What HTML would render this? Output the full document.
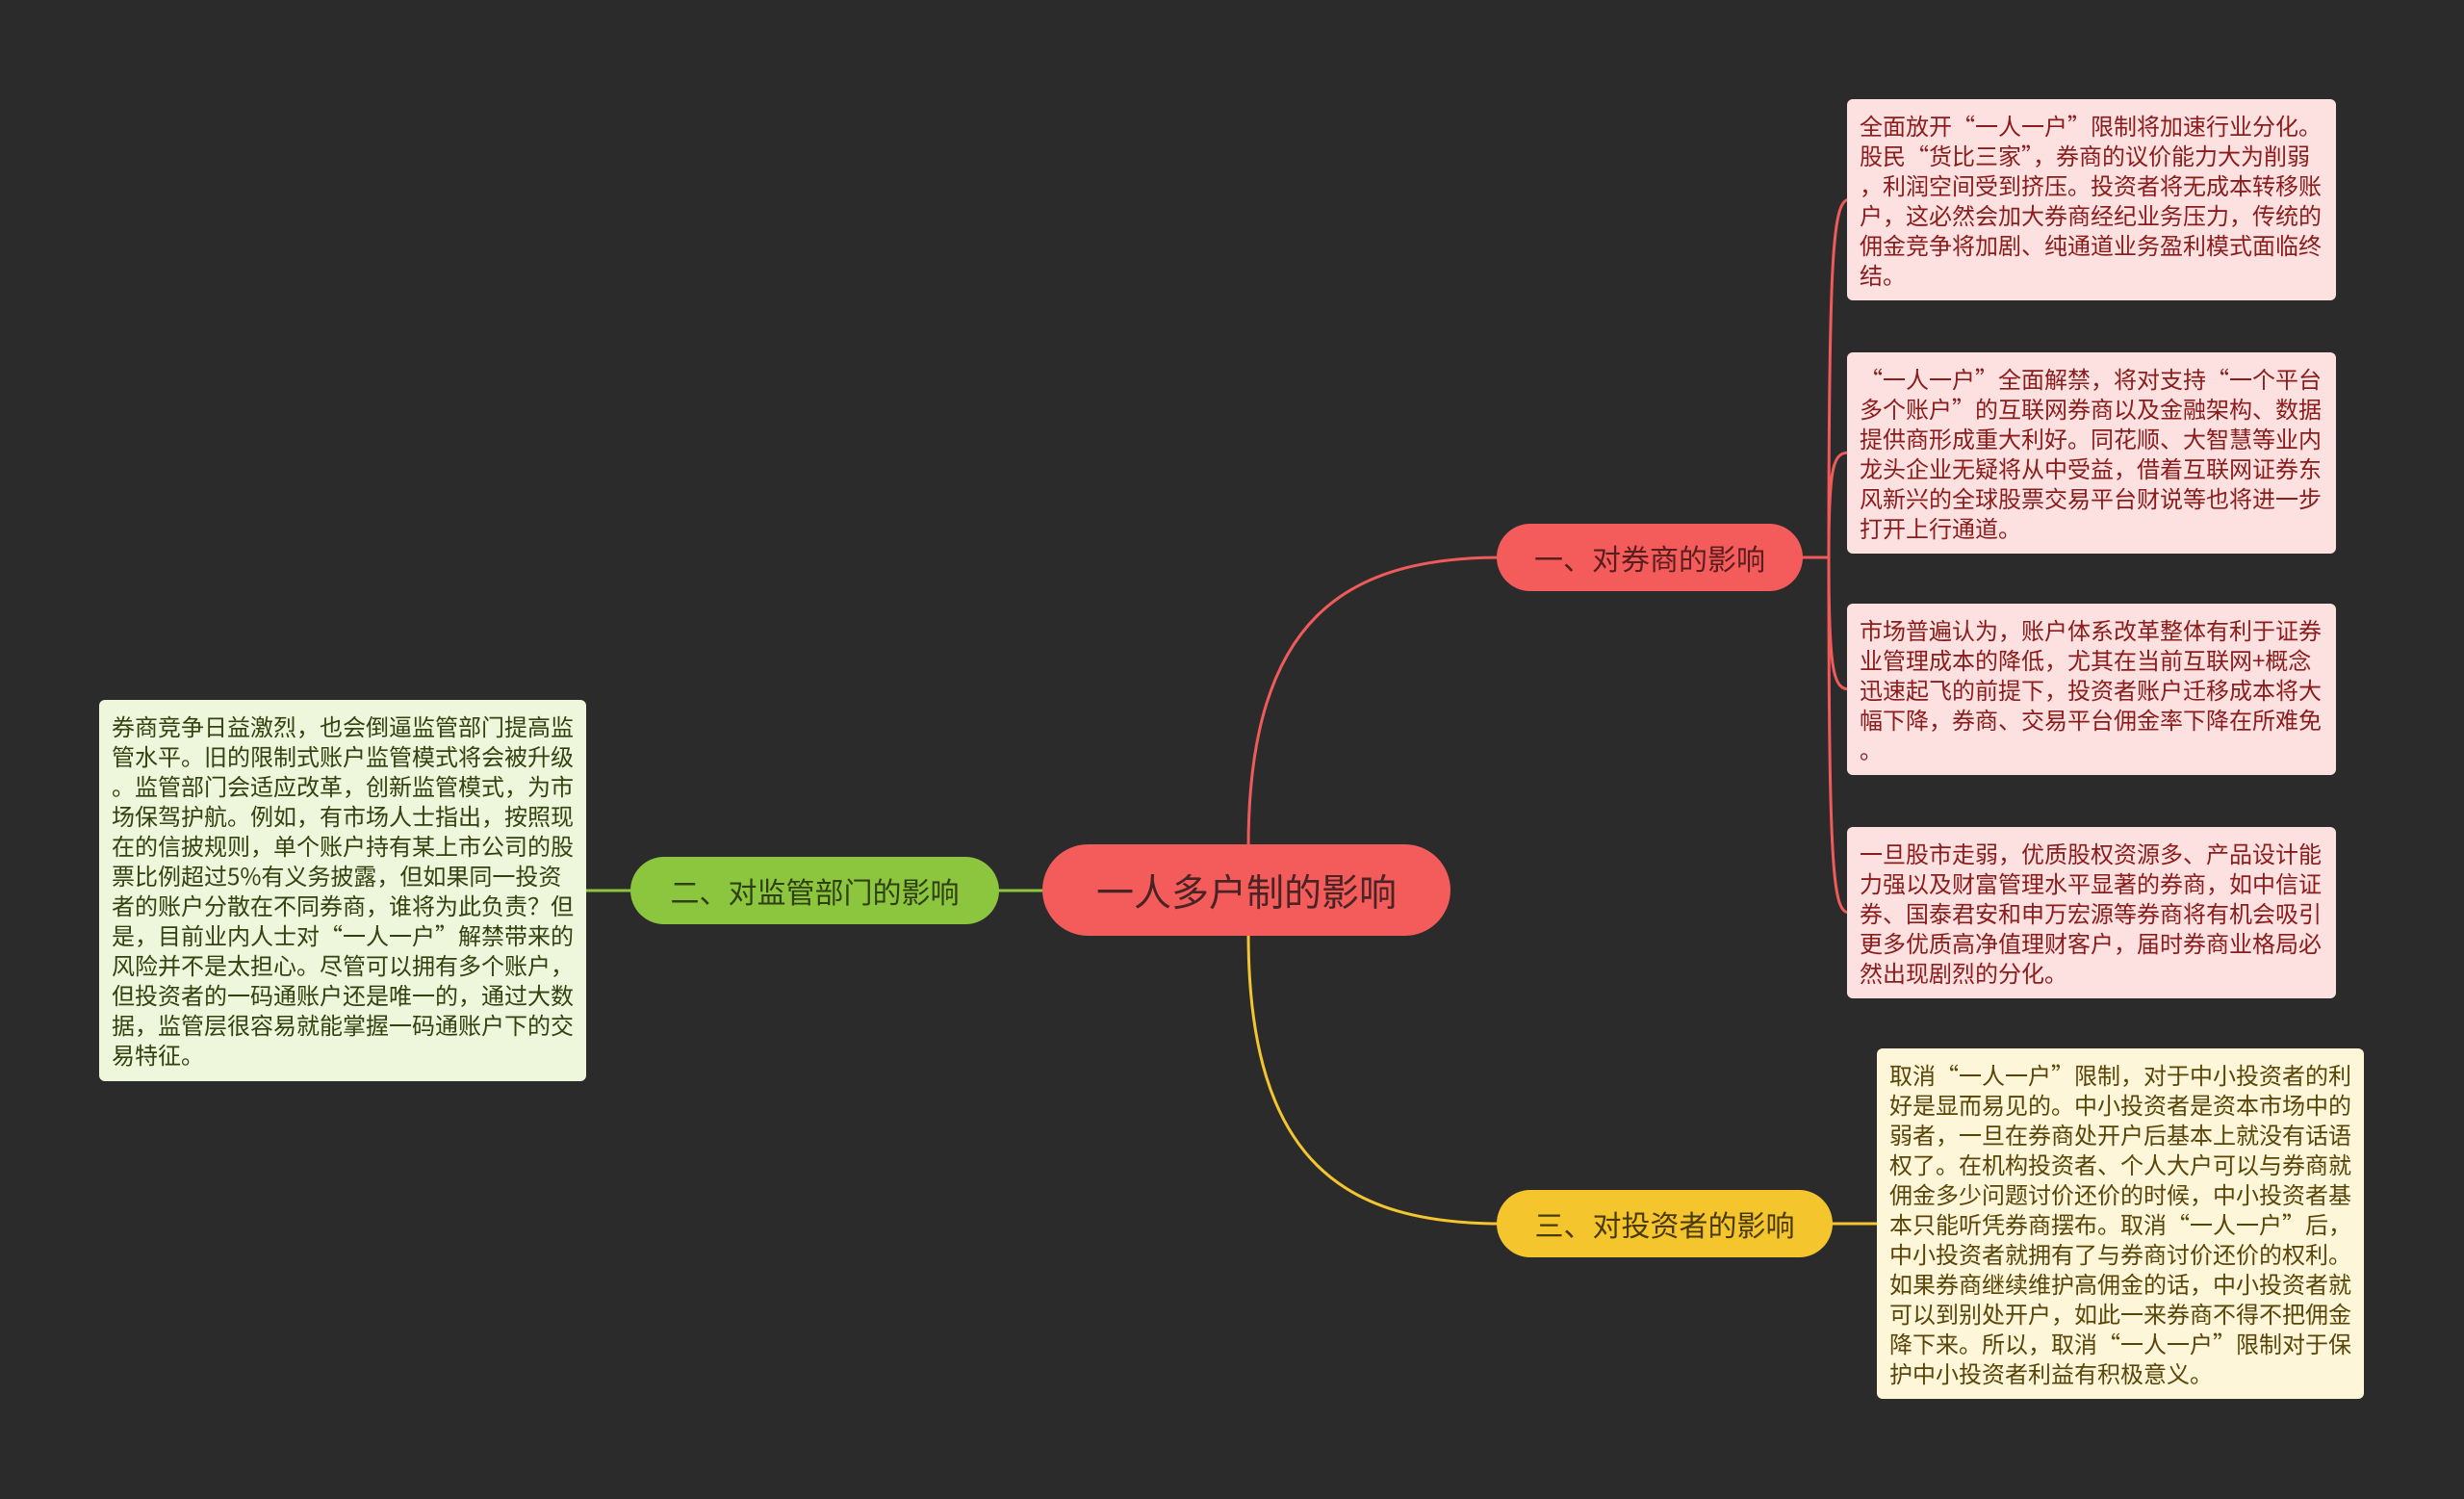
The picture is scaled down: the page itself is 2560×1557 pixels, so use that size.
<!DOCTYPE html>
<html><head><meta charset="utf-8"><style>
body{margin:0;width:2560px;height:1557px;background:#2b2b2b;position:relative;overflow:hidden;font-family:"Noto Sans CJK SC","Liberation Sans",sans-serif;}
.n{position:absolute;display:flex;align-items:center;justify-content:center;border-radius:40px;box-sizing:border-box;}
.b{position:absolute;box-sizing:border-box;border-radius:6px;padding:11px 12px 0 13px;font-size:24px;line-height:31px;word-break:break-all;line-break:anywhere;font-family:"Noto Sans CJK SC",sans-serif;}
.r{background:#fde1e1;color:#8a1c1c;}
</style></head><body>
<svg width="2560" height="1557" style="position:absolute;left:0;top:0">
<g fill="none" stroke-width="3">
<path d="M1297 880 C1297 640 1400 579 1560 579" stroke="#f05a5a"/>
<path d="M1297 970 C1297 1210 1400 1271 1560 1271" stroke="#f3c52e"/>
<path d="M1090 925 L1030 925" stroke="#8cc63f"/>
<path d="M660 925 L605 925" stroke="#8cc63f"/>
<path d="M1868 579 L1900 579" stroke="#f05a5a"/>
<path d="M1900 579 C1900 250 1905 207 1922 207 M1900 579 C1900 480 1905 470 1922 470 M1900 579 C1900 700 1905 716 1922 716 M1900 579 C1900 920 1905 948 1922 948" stroke="#f05a5a"/>
<path d="M1900 1271 L1952 1271" stroke="#f3c52e"/>
</g></svg>
<div class="n" style="left:1083px;top:877px;width:424px;height:95px;background:#f45b5b;color:#4a2424;font-size:39px;border-radius:48px;">一人多户制的影响</div>
<div class="n" style="left:1555px;top:544px;width:318px;height:70px;background:#f45b5b;color:#5a1e1e;font-size:30px;">一、对券商的影响</div>
<div class="n" style="left:655px;top:890px;width:383px;height:70px;background:#8cc63f;color:#2f3f10;font-size:30px;">二、对监管部门的影响</div>
<div class="n" style="left:1555px;top:1236px;width:349px;height:70px;background:#f5c52e;color:#4a3a08;font-size:30px;">三、对投资者的影响</div>
<div class="b r" style="left:1919px;top:103px;width:508px;height:209px;">全面放开“一人一户”限制将加速行业分化。股民“货比三家”，券商的议价能力大为削弱，利润空间受到挤压。投资者将无成本转移账户，这必然会加大券商经纪业务压力，传统的佣金竞争将加剧、纯通道业务盈利模式面临终结。</div>
<div class="b r" style="left:1919px;top:366px;width:508px;height:209px;">“一人一户”全面解禁，将对支持“一个平台多个账户”的互联网券商以及金融架构、数据提供商形成重大利好。同花顺、大智慧等业内龙头企业无疑将从中受益，借着互联网证券东风新兴的全球股票交易平台财说等也将进一步打开上行通道。</div>
<div class="b r" style="left:1919px;top:627px;width:508px;height:178px;">市场普遍认为，账户体系改革整体有利于证券业管理成本的降低，尤其在当前互联网+概念迅速起飞的前提下，投资者账户迁移成本将大幅下降，券商、交易平台佣金率下降在所难免。</div>
<div class="b r" style="left:1919px;top:859px;width:508px;height:178px;">一旦股市走弱，优质股权资源多、产品设计能力强以及财富管理水平显著的券商，如中信证券、国泰君安和申万宏源等券商将有机会吸引更多优质高净值理财客户，届时券商业格局必然出现剧烈的分化。</div>
<div class="b" style="left:1950px;top:1089px;width:506px;height:364px;background:#fdf6d8;color:#5a4508;">取消“一人一户”限制，对于中小投资者的利好是显而易见的。中小投资者是资本市场中的弱者，一旦在券商处开户后基本上就没有话语权了。在机构投资者、个人大户可以与券商就佣金多少问题讨价还价的时候，中小投资者基本只能听凭券商摆布。取消“一人一户”后，中小投资者就拥有了与券商讨价还价的权利。如果券商继续维护高佣金的话，中小投资者就可以到别处开户，如此一来券商不得不把佣金降下来。所以，取消“一人一户”限制对于保护中小投资者利益有积极意义。</div>
<div class="b" style="left:103px;top:727px;width:506px;height:396px;background:#eef6dc;color:#33420f;">券商竞争日益激烈，也会倒逼监管部门提高监管水平。旧的限制式账户监管模式将会被升级。监管部门会适应改革，创新监管模式，为市场保驾护航。例如，有市场人士指出，按照现在的信披规则，单个账户持有某上市公司的股票比例超过5%有义务披露，但如果同一投资者的账户分散在不同券商，谁将为此负责？但是，目前业内人士对“一人一户”解禁带来的风险并不是太担心。尽管可以拥有多个账户，但投资者的一码通账户还是唯一的，通过大数据，监管层很容易就能掌握一码通账户下的交易特征。</div>
</body></html>
